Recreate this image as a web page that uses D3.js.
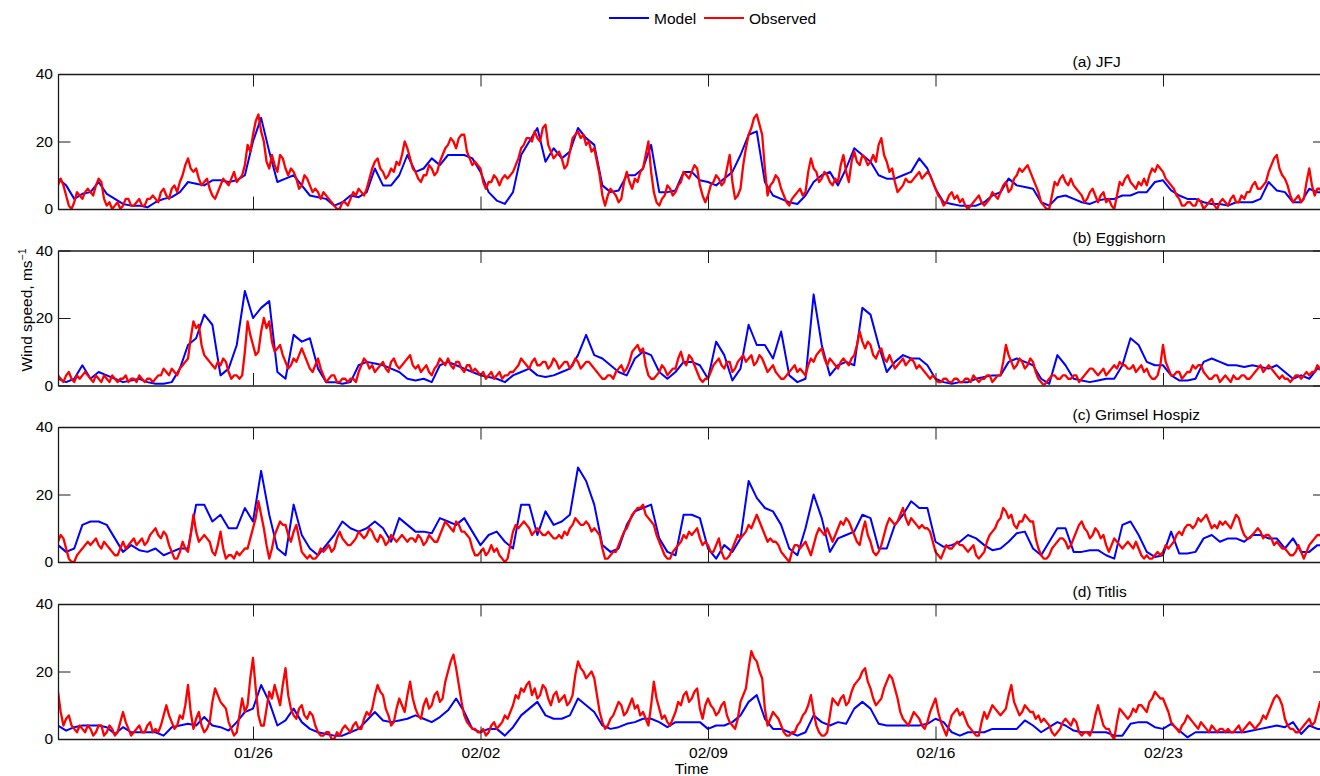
<!DOCTYPE html>
<html><head><meta charset="utf-8">
<script src="https://cdn.jsdelivr.net/npm/d3@7"></script>
<style>
body{margin:0;background:#fff}
text{font-family:"Liberation Sans",Arial,Helvetica,sans-serif;fill:#000}
</style>
</head><body>
<svg id="chart" width="1320" height="776"></svg>
<script>
// ---------------- data ----------------
const stations = ["(a) JFJ", "(b) Eggishorn", "(c) Grimsel Hospiz", "(d) Titlis"];
const seriesNames = ["Model", "Observed"];
const startDate = "2013-01-20T00:00:00Z";
const endDate = "2013-02-28T00:00:00Z";
const modelStepHours = 6;
const obsStepHours = 2;
const xTickDates = ["2013-01-26", "2013-02-02", "2013-02-09", "2013-02-16", "2013-02-23"];
const xTickLabels = ["01/26", "02/02", "02/09", "02/16", "02/23"];
const yTicks = [0, 20, 40];
const yTickLabels = ["0", "20", "40"];

const modelJFJ = [
9,7,3,4.5, 5,8,4.5,3, 1.5,1,1,0.5, 2,3,3.5,5, 8,7.5,7,8.5, 8.5,8,8.5,10, 20,27,17,8, 9,10,7,4,
3.5,3,1,2, 4,3.5,5,12, 7,7,10,16, 11,12,15,13, 16,16,16,15, 11,5,2.5,1.5, 5,16,20,24, 14,18,15,17,
24,21,19,7, 5,5.5,10,10, 12,19,5,5, 5.5,11,11,8.5, 8,7,9,11, 16,22,23,8, 4,3,2,1.5, 4,8,10,11,
7,12,18,16, 14,10,9,9, 10,11,15,12, 6,2,1.5,1, 1,1,2,4, 5,9,7,6.5, 6,2,1,3.5, 4,3,2,1.5,
2.5,3,3,4, 4,5,5,8, 8.5,5.5,4,3, 3,2,1.5,1.5, 1,2,2,2, 3,8,5.5,5, 2,2,6,5, 5];
const obsJFJ = [
7,9,7,4,1,0,2,5,4,3,5,6, 5,4,7,9,8,3,1,2,0,1,2,0, 1,3,3,1,1,2,3,1,1,3,3,4,
3,2,5,6,4,3,6,7,5,8,10,13, 15,12,11,12,9,7,8,9,6,4,3,5, 7,9,8,7,9,11,8,9,10,13,19,17,
22,26,28,23,20,14,12,16,13,11,16,15, 12,10,12,11,9,6,7,10,9,7,5,6, 5,3,5,4,3,2,1,0,0,2,2,1,
3,5,4,6,5,4,6,9,12,14,15,12, 11,9,10,12,11,14,13,16,20,18,15,12, 11,9,8,10,10,13,12,10,11,14,16,18,
19,21,20,18,21,22,22,17,15,13,14,13, 12,8,6,8,8,10,9,7,9,10,9,10, 11,13,15,18,19,21,21,20,23,21,20,24,
25,19,17,15,16,17,15,12,13,17,21,22, 23,21,22,19,20,17,18,14,10,4,1,4, 6,5,4,2,3,8,11,8,6,9,8,11,
12,16,20,11,5,2,1,3,4,7,6,4, 5,7,8,11,10,9,11,13,12,7,4,2, 4,7,8,10,9,7,8,12,16,8,3,4,
6,13,18,22,24,27,28,25,22,12,4,7, 8,10,9,6,4,2,1,3,4,5,6,4, 5,11,15,12,11,8,9,11,10,8,7,9,
8,13,16,11,8,14,17,14,13,16,15,13, 14,16,14,19,21,16,14,11,12,8,5,6, 7,9,8,8,9,10,11,9,10,11,10,8,
6,4,3,1,2,4,5,3,4,2,3,1, 0,1,2,3,4,2,1,2,3,5,4,3, 5,7,8,5,6,9,10,12,11,12,13,11,
9,7,5,2,1,0,0,4,8,7,9,10, 8,7,9,7,6,5,4,2,3,5,6,4, 2,4,5,2,3,1,0,4,8,7,9,10,
8,7,6,8,7,9,7,10,12,11,13,12, 11,9,8,7,6,4,3,1,1,2,2,1, 1,3,2,0,1,2,3,1,0,2,3,2,
1,3,4,2,2,4,3,5,5,7,8,6, 6,7,8,11,13,15,16,12,10,9,7,4, 2,3,4,2,3,8,12,7,4,6,6,4, 5];

const modelEgg = [
2,1,2,6, 2,4,3,2, 1,1.5,2,1, 0.5,0.5,1,5, 12,14,21,18, 3,5,12,28, 20,23,25,4, 2,15,13,14,
5,1,1,0.5, 1,6,7,6.5, 6,5,4,2, 1.5,2,1,6, 7,6,5,4, 3,2.5,2,1, 3,4,5,3, 2.5,3,4,5,
9,15,9,8, 6,4,3,8, 10,9,4,2, 4,7,7,6, 2,13,9,1.5, 5,18,12,12, 8,16,3,1, 2,27,12,3,
6,7,6,23, 21,12,4,7, 9,8,8,6, 2,1,0.5,1, 1,2,2.5,3, 3,7,8,7, 6,2,0.5,9, 6,2,1.5,1,
1.5,2,2,6, 14,12,7,6, 6,3,1.5,1.5, 2,7,8,7, 6,6,5.5,6, 5.5,5,6,4, 2,3,2,5, 5];
const obsEgg = [
3,2,1,3,4,2,1,3,2,3,4,3, 2,1,3,2,1,3,2,1,3,2,1,2, 2,3,1,2,2,1,3,2,1,2,2,1,
2,3,3,5,4,3,5,4,3,5,6,7, 8,14,19,17,18,12,9,8,7,6,5,7, 6,8,7,4,2,3,3,2,3,10,19,15,
12,9,10,16,20,17,19,13,10,11,12,9, 7,5,6,8,7,9,11,9,7,5,4,6, 8,5,3,1,2,3,3,1,1,2,2,1,
2,2,1,4,6,8,7,5,6,4,5,6, 7,5,4,7,8,6,5,6,7,8,9,6, 5,6,4,5,6,4,3,5,6,8,7,6,
8,6,5,7,7,5,4,6,6,4,5,4, 3,4,2,3,4,2,3,4,2,3,3,4, 4,5,6,8,7,6,5,7,8,6,6,7,
7,5,6,8,7,5,6,7,7,5,6,8, 7,5,6,7,7,6,5,4,3,2,2,3, 3,2,4,5,6,4,5,7,10,11,12,10,
11,6,3,2,2,3,4,6,5,3,4,5, 5,8,10,7,6,9,8,6,4,2,1,2, 2,4,6,7,8,6,5,7,7,4,5,7,
8,9,7,8,9,6,7,9,8,6,4,5, 6,4,3,2,2,3,4,5,6,4,5,4, 3,6,8,7,9,10,11,8,6,8,7,6,
5,7,8,7,6,8,9,12,16,13,11,13, 12,9,8,10,11,8,7,9,7,5,6,7, 8,6,7,8,7,5,6,5,4,3,2,3,
2,1,1,2,2,1,1,2,2,1,1,2, 2,1,3,2,1,2,2,3,3,1,2,3, 3,7,12,9,7,5,6,8,7,5,6,8,
7,4,2,1,0,1,2,3,3,2,2,3, 3,2,2,3,3,1,2,3,4,5,5,4, 3,4,5,3,4,5,6,5,7,6,6,5,
5,6,4,5,6,4,5,3,2,2,3,6, 12,7,5,3,3,4,4,2,3,4,4,6, 5,6,6,4,3,2,2,3,3,1,2,3,
2,1,3,2,2,3,3,2,2,3,4,5, 6,4,5,6,5,4,3,2,3,2,2,1, 2,3,3,2,3,4,3,4,4,6,5,3, 4];

const modelGrim = [
5,3,4,11, 12,12,11,7, 3,5,3.5,3, 4,2,3,4, 4,17,17,12, 14,10,10,16, 12,27,14,4, 2,17,8,4,
2,5,8,12, 10,9,10,12, 10,6,13,11, 9,9,8.5,13, 12,11,13,9, 5,8,9,6, 4,17,17,8, 15,11,12,14,
28,24,17,5, 3,4,11,15, 16,17,7,3, 2,14,14,13, 4,1,5,3, 7,24,19,16, 15,11,4,2, 10,20,13,3,
7,8,9,14, 13,4,4,11, 14,18,16,16, 6,4.5,5,6, 8,7,5,3.5, 4,6,8.5,9, 4,2,6,10, 10,3,3,3.5,
3.5,2,1,11, 12,8,3,1.5, 2,9,2.5,2.5, 3,7,8,6, 7,7,6,8, 8,7,7,4, 7,3,3,5, 5];
const obsGrim = [
6,8,7,4,1,0,0,2,3,4,5,6, 5,6,7,5,4,6,5,4,3,2,2,4, 6,4,5,6,7,5,6,7,5,6,8,9,
10,8,7,9,8,5,3,1,1,3,6,4, 3,8,14,9,6,7,8,7,6,3,2,5, 9,4,1,2,2,1,3,2,3,4,4,7,
10,13,18,14,10,5,1,4,8,10,12,11, 11,8,6,9,11,7,3,2,1,2,1,1, 2,4,3,4,5,3,4,7,9,7,6,5,
5,6,7,9,8,7,8,10,9,7,6,8, 7,5,6,8,7,6,7,8,7,6,7,7, 6,8,7,5,6,8,7,6,6,8,10,12,
11,10,9,12,11,9,9,8,7,4,2,2, 3,4,2,3,5,3,4,2,1,0,1,5, 9,11,10,11,12,11,10,8,9,10,9,8,
8,9,8,7,7,8,7,9,8,10,11,13, 12,11,11,12,11,9,10,9,8,4,1,1, 2,3,3,5,7,9,10,12,14,15,16,16,
17,14,13,12,11,8,6,4,2,1,1,3, 4,5,6,8,7,9,8,9,10,7,5,6, 5,3,3,5,7,3,1,1,2,4,6,8,
7,8,9,11,10,12,14,12,10,8,6,7, 6,6,5,3,2,1,0,3,5,5,4,5, 6,4,2,5,8,10,9,8,10,8,6,8,
10,12,11,13,12,10,8,6,5,9,12,8, 6,3,2,3,5,8,11,13,12,11,12,14, 16,13,11,13,12,11,10,11,10,10,9,6,
3,2,1,3,5,4,4,5,6,5,5,4, 3,4,5,2,1,2,3,6,8,9,10,12, 13,16,15,13,14,11,10,12,12,14,13,12,
12,7,4,2,1,1,2,4,5,6,7,7, 6,4,5,7,9,11,12,10,9,7,8,10, 9,7,8,5,3,5,7,6,5,4,5,6,
5,4,6,4,2,1,2,1,1,2,3,2, 3,5,4,5,6,8,9,8,10,11,11,10, 11,13,12,13,14,12,10,11,10,12,11,12,
11,10,12,14,13,10,8,7,7,8,9,10, 9,7,8,8,7,5,6,5,4,4,3,2, 2,3,5,3,1,3,5,6,7,8,8,7, 6];

const modelTit = [
4,2.5,3.5,4, 4,4,3.5,1.5, 3.5,2,2,2, 2,1,3.5,4, 4.5,4,6.5,4, 3.5,2.5,5,8, 9,16,11,4, 5.5,9,5,3,
2,1.5,1,1, 2,3,5.5,8, 5.5,5,5.5,6, 7,6,5,6.5, 8.5,12,8,3, 2,3,3,1, 3.5,7,9,11, 7,6,6,7,
12,10,8,4, 3,3.5,4.5,5, 6,6,5,3.5, 5,5,5,5, 3,4,4,5, 7,11,13,6, 3,3,2,1, 2,7,5,4,
5,4.5,9,11, 9,4.5,4,4, 4,4,4,4.5, 6,5,2,1, 2,2,2,3, 3,3,3,5.5, 4,2,3.5,5, 4,2.5,2,2,
2,2,1,1, 4.5,5,5,3.5, 3,4.5,2.5,0.5, 2,2,2,2, 2,2,2,2.5, 3,3.5,4,3.5, 5,1.5,4,3, 3];
const obsTit = [
14,8,4,6,7,4,3,2,4,3,2,4, 3,1,2,4,4,1,2,4,3,1,2,5, 8,5,3,1,2,3,4,2,2,4,5,2,
3,2,4,7,10,7,5,3,4,7,6,10, 16,8,3,6,8,4,2,3,5,11,15,13, 11,10,9,5,3,1,2,7,12,8,10,18,
24,15,7,4,4,9,14,12,16,13,10,16, 21,13,9,7,6,9,10,7,6,8,7,4, 2,1,1,2,2,0,0,2,1,3,4,3,
2,4,5,3,3,6,8,7,9,13,16,14, 13,9,7,4,5,9,12,10,8,13,17,12, 9,7,6,10,12,9,10,13,14,11,12,17,
20,23,25,21,16,11,7,5,4,3,3,2, 2,3,1,2,4,5,3,4,5,7,6,8, 10,13,12,15,14,16,17,13,15,12,13,16,
15,12,10,13,14,11,12,13,10,11,13,19, 23,21,20,18,19,20,18,13,8,5,3,4, 6,7,9,11,10,7,8,10,12,9,10,7,
8,6,4,10,17,12,9,6,7,5,4,6, 8,11,10,13,14,11,12,14,15,9,6,10, 12,10,9,7,8,10,11,7,5,4,3,6,
11,13,15,21,26,24,23,20,18,9,4,6, 8,7,6,4,2,1,1,2,2,4,5,7, 8,10,13,8,4,2,1,1,2,7,12,11,
10,12,13,10,11,14,16,17,18,20,21,17, 15,12,10,11,12,15,17,19,18,15,12,8, 6,5,4,6,8,7,6,4,3,5,8,10,
12,8,5,3,1,4,7,8,9,7,8,6, 4,3,2,1,1,5,8,6,8,10,9,8, 7,8,9,13,16,11,9,7,8,10,9,8,
8,6,7,5,6,5,4,2,1,2,3,5, 6,5,4,6,5,2,1,2,2,1,3,7, 10,7,4,3,3,1,0,5,9,8,7,6,
7,9,8,10,10,9,8,11,12,14,13,12, 12,10,8,5,4,3,2,4,5,7,6,5, 4,3,5,4,3,2,4,3,2,3,3,2,
3,2,2,3,4,2,3,4,5,4,3,4, 5,7,6,8,10,12,13,12,10,6,4,3, 3,2,2,3,4,5,6,4,5,8,11,8, 6];

const modelSeries = [modelJFJ, modelEgg, modelGrim, modelTit];
const obsSeries = [obsJFJ, obsEgg, obsGrim, obsTit];
const seriesColors = ["#0000ff", "#ff0000"];

// ---------------- layout ----------------
const svg = d3.select("#chart");
const left = 58, right = 1325.5;
const panelTops = [74, 250.5, 427, 604];
const panelH = 135;
const tickLen = 12.5;
const t0 = new Date(startDate), t1 = new Date(endDate);
const x = d3.scaleUtc().domain([t0, t1]).range([left, right]);
const HOUR = 3600 * 1000;
const toPoints = (arr, step) => arr.map((v, i) => ({t: new Date(t0.getTime() + i * step * HOUR), v}));

svg.append("defs").selectAll("clipPath").data(panelTops).join("clipPath")
  .attr("id", (d, i) => "clip" + i)
  .append("rect").attr("x", left).attr("y", d => d).attr("width", right - left).attr("height", panelH);

panelTops.forEach((top, p) => {
  const y = d3.scaleLinear().domain([0, 40]).range([top + panelH, top]);
  const g = svg.append("g");
  const line = d3.line().x(d => x(d.t)).y(d => y(d.v)).curve(d3.curveLinear);
  const plot = g.append("g").attr("clip-path", `url(#clip${p})`);
  plot.append("path").datum(toPoints(modelSeries[p], modelStepHours))
    .attr("d", line).attr("fill", "none").attr("stroke", seriesColors[0])
    .attr("stroke-width", 2).attr("stroke-linejoin", "round");
  plot.append("path").datum(toPoints(obsSeries[p], obsStepHours))
    .attr("d", line).attr("fill", "none").attr("stroke", seriesColors[1])
    .attr("stroke-width", 2.3).attr("stroke-linejoin", "round");

  // axes (box with inward ticks)
  const xt = xTickDates.map(s => new Date(s + "T00:00:00Z"));
  const axBottom = d3.axisBottom(x).tickValues(xt).tickSizeInner(-tickLen).tickSizeOuter(0)
    .tickFormat((d, i) => p === 3 ? xTickLabels[i] : "");
  const axTop = d3.axisTop(x).tickValues(xt).tickSizeInner(-tickLen).tickSizeOuter(0).tickFormat("");
  const axLeft = d3.axisLeft(y).tickValues(yTicks).tickSizeInner(-tickLen).tickSizeOuter(0)
    .tickFormat((d, i) => yTickLabels[i]);
  const axRight = d3.axisRight(y).tickValues(yTicks).tickSizeInner(-tickLen).tickSizeOuter(0).tickFormat("");

  const style = sel => {
    sel.select(".domain").attr("stroke", "#1a1a1a").attr("stroke-width", 1.3);
    sel.selectAll(".tick line").attr("stroke", "#1a1a1a").attr("stroke-width", 1);
    sel.selectAll(".tick text").attr("font-size", "15.5px").attr("font-family", '"Liberation Sans",Arial,sans-serif').attr("fill", "#000");
  };
  g.append("g").attr("transform", `translate(0,${top + panelH})`).call(axBottom).call(style)
    .selectAll(".tick text").attr("y", 19).attr("dy", 0);
  g.append("g").attr("transform", `translate(0,${top})`).call(axTop).call(style);
  g.append("g").attr("transform", `translate(${left},0)`).call(axLeft).call(style)
    .selectAll(".tick text").attr("x", -5);
  g.append("g").attr("transform", `translate(${right},0)`).call(axRight).call(style);

  g.append("text").attr("x", 1072.5).attr("y", top - 7.5).attr("font-size", "15.5px").text(stations[p]);
});

// axis titles
svg.append("text").attr("x", (left + right) / 2).attr("y", 773.5).attr("text-anchor", "middle")
  .attr("font-size", "15.5px").text("Time");
const yl = svg.append("text").attr("transform", "translate(32,310) rotate(-90)")
  .attr("text-anchor", "middle").attr("font-size", "15.5px");
yl.append("tspan").text("Wind speed, ms");
yl.append("tspan").attr("dy", -6).attr("font-size", "10.5px").text("\u22121");

// legend
const legend = svg.append("g");
const legX = [609, 704];
seriesNames.forEach((name, i) => {
  legend.append("line").attr("x1", legX[i]).attr("x2", legX[i] + 40).attr("y1", 18).attr("y2", 18)
    .attr("stroke", seriesColors[i]).attr("stroke-width", 2);
  legend.append("text").attr("x", legX[i] + 45).attr("y", 23.5).attr("font-size", "15.5px").text(name);
});
</script>
</body></html>
